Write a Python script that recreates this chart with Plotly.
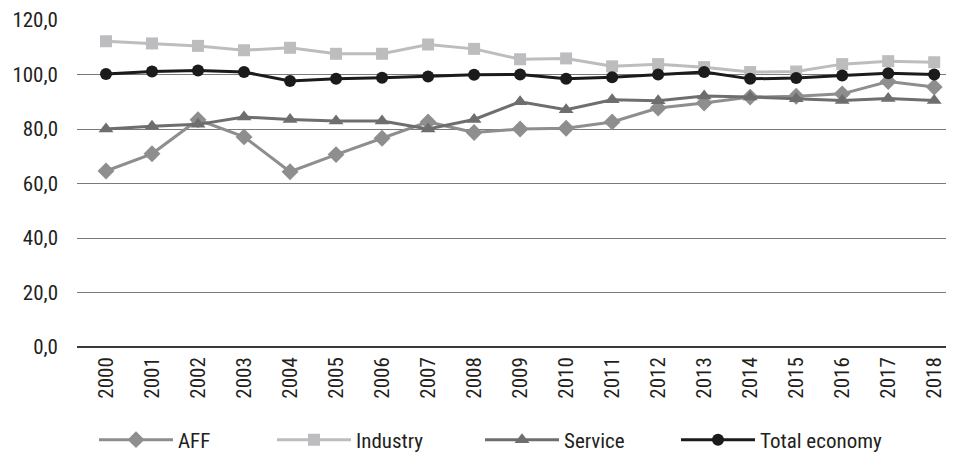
import plotly.graph_objects as go

years = list(range(2000, 2019))
year_labels = [str(y) for y in years]

aff = [64.6, 70.9, 83.4, 77.1, 64.3, 70.6, 76.6, 82.6, 78.7, 80.0, 80.3, 82.6,
       87.7, 89.5, 91.7, 92.0, 92.9, 97.4, 95.4]
industry = [112.2, 111.4, 110.5, 108.9, 109.8, 107.6, 107.6, 111.0, 109.4, 105.6, 105.9, 103.0,
            103.8, 102.7, 100.9, 101.1, 103.8, 104.9, 104.5]
service = [80.0, 81.0, 81.7, 84.4, 83.5, 82.9, 82.9, 80.0, 83.5, 90.0, 87.1, 90.7,
           90.4, 92.1, 91.7, 91.1, 90.5, 91.2, 90.5]
total = [100.2, 101.1, 101.5, 100.9, 97.6, 98.4, 98.8, 99.3, 99.9, 100.0, 98.4, 99.0,
         100.0, 100.9, 98.4, 98.7, 99.6, 100.5, 100.0]

y_ticks = [0, 20, 40, 60, 80, 100, 120]

FONT = "Roboto Condensed, Liberation Sans Narrow, Arial Narrow, DejaVu Sans Condensed, sans-serif"
FS = 21
TXT = "#231f20"

# page body has an 8px default margin; figure sized to fill the rest of the window
W, H = 946, 446
series = [
    ("AFF", aff, "#8e8e8e", "diamond", 13, 86),
    ("Industry", industry, "#bdbdbf", "square", 12, 264),
    ("Service", service, "#6e6e6e", "triangle-up", 13, 472),
    ("Total economy", total, "#1c1a1b", "circle", 12, 668),
]

fig = go.Figure()
legend_layouts = {}
for i, (name, vals, color, sym, size, lx) in enumerate(series):
    lname = "legend" if i == 0 else f"legend{i+1}"
    fig.add_trace(go.Scatter(
        x=years, y=vals, name=name, mode="lines+markers",
        line=dict(color=color, width=3),
        marker=dict(symbol=sym, size=size, color=color),
        legend=lname,
    ))
    legend_layouts[lname] = dict(
        orientation="h", x=lx / W, xref="container", y=1 - 432 / H, yref="container",
        xanchor="left", yanchor="middle", bgcolor="rgba(0,0,0,0)",
        font=dict(family=FONT, size=FS, color=TXT), itemwidth=74,
    )

fig.update_layout(
    width=W, height=H,
    margin=dict(l=69, r=0, t=12, b=107),
    paper_bgcolor="white", plot_bgcolor="white",
    separators=",.",
    font=dict(family=FONT, size=FS, color=TXT),
    showlegend=True,
    **legend_layouts,
)
fig.update_xaxes(
    range=[1999.37, 2018.43], tickmode="array", tickvals=years, ticktext=year_labels,
    tickangle=-90, showgrid=False, zeroline=False, showline=False, ticks="",
    ticklabelstandoff=5, automargin=False,
    tickfont=dict(family=FONT, size=FS, color=TXT),
)
fig.update_yaxes(
    range=[0, 120], tickmode="array", tickvals=y_ticks, tickformat=".1f",
    showgrid=True, gridcolor="#7a7a7a", gridwidth=1,
    zeroline=True, zerolinecolor="#3a3a3a", zerolinewidth=1.5, showline=False,
    ticks="", ticklabelstandoff=18, automargin=False,
    tickfont=dict(family=FONT, size=FS, color=TXT),
)

fig.write_html("out.html")
